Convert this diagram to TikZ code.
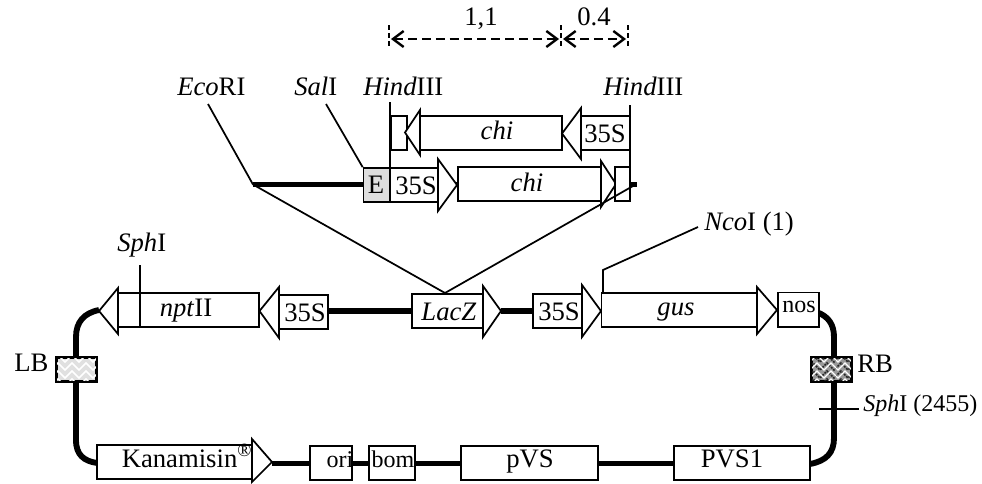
\documentclass[tikz,border=0pt]{standalone}
\usepackage{fontspec}
\setmainfont{Liberation Serif}
\usetikzlibrary{arrows.meta}
\tikzset{
  thin line/.style={draw=black,line width=1.3pt},
  boxshape/.style={draw=black,fill=white,line width=1.3pt,inner sep=0pt,rectangle},
  lab/.style={inner sep=0pt,anchor=base,font=\fontsize{20}{20}\selectfont},
  smalllab/.style={inner sep=0pt,anchor=base,font=\fontsize{18}{18}\selectfont},
  backbone/.style={draw=black,line width=4.4pt},
  dim/.style={draw=black,line width=1.8pt,dash pattern=on 6.7pt off 3.7pt},
  tick/.style={draw=black,line width=1pt,dash pattern=on 4pt off 2pt},
  arrowtri/.style={draw=black,fill=white,line width=1.3pt,line join=miter},
}
% name x1 y1 x2 y2 extra
\newcommand\bx[6][]{\node[boxshape,#1,minimum width={(#4-#2)*0.75pt},minimum height={(#5-#3)*0.75pt}] (#6) at ({(#2+#4)/2},{(#3+#5)/2}) {};}
% name basex ytop ybot tipx ymid
\newcommand\tri[6]{\draw[arrowtri] (#2,#3) -- (#2,#4) -- (#5,#6) -- cycle; \coordinate (#1) at (#5,#6);}
\newcommand\zig[2]{%
  \foreach \yy in {-12,-4,4,12,20,28}{%
    \draw[#2] (-10+#1,358+\yy)
      \foreach \k in {0,1,2,3,4,5,6}{ -- ++(7,-7) -- ++(7,7)};
  }}
\begin{document}
\begin{tikzpicture}[x=0.75pt,y=-0.75pt]
\useasboundingbox (0,0) rectangle (982,483);
% named free ends
\coordinate (ecoT) at (208,104);
\coordinate (salT) at (326,104);
\coordinate (h1T) at (390,102);
\coordinate (h2T) at (630,105);
\coordinate (h1B) at (390,168);
\coordinate (h2B) at (630,202);
\coordinate (topL) at (253,184.5);
\coordinate (topR) at (637,184.5);
\coordinate (insR) at (633,186);
\coordinate (sphT) at (140,265);
\coordinate (sphB) at (140,327);
\coordinate (ncoK) at (603,270);
\coordinate (ncoE) at (698,227);
\coordinate (ncoB) at (603,293);
\coordinate (sph2L) at (819,409);
\coordinate (sph2R) at (859,409);
% backbone
\draw[backbone] (topL) -- (topR);
\draw[backbone] (99,310) .. controls (84,313) and (76,322) .. (76,337) -- (76,440) .. controls (76,455) and (84,461) .. (97,463);
\draw[backbone] (819,313) .. controls (828,317) and (834,324) .. (834,337) -- (834,438) .. controls (834,453) and (826,461) .. (810,464);
\draw[backbone] (328,311) -- (412,311);
\draw[backbone] (501,311) -- (534,311);
\draw[backbone] (272,463.5) -- (310,463.5);
\draw[backbone] (352,463.5) -- (369,463.5);
\draw[backbone] (415,463.5) -- (461,463.5);
\draw[backbone] (598,463.5) -- (674,463.5);
% insert, upper strand
\bx{391}{116}{407}{150}{ttail}
\tri{ttailtri}{420}{110}{155}{405}{132.5}
\bx{420}{116}{562}{150}{tchi}
\tri{tchitri}{581}{108}{159}{562}{133.5}
\bx{581}{116}{630}{150}{tp}
% insert, lower strand
\bx[fill=black!13]{363.5}{168}{390}{202}{ebox}
\bx{390}{168}{438}{202}{lp}
\tri{lptri}{438}{159}{211}{457}{185}
\bx{458}{167}{601}{201}{lchi}
\tri{lchitri}{601}{161}{207}{616}{184}
\bx{615}{167}{630}{201}{ltail}
% site lines
\draw[thin line] (ecoT) -- (topL);
\draw[thin line] (salT) -- (ebox.north west);
\draw[thin line] (h1T) -- (h1B);
\draw[thin line] (h2T) -- (h2B);
% main row
\tri{npttri}{118}{288}{334}{99}{311}
\bx{118}{293}{259}{327}{npt}
\tri{sltri}{279}{287}{338}{259.5}{311}
\bx{279}{295}{328}{329}{sl}
\bx{412}{294}{483}{328}{lacz}
\tri{lacztri}{483}{286}{337}{501}{311}
\bx{533}{294}{582}{328}{sm}
\tri{smtri}{582}{285}{337}{601}{311}
\bx{601.5}{293}{757}{327}{gus}
\tri{gustri}{757}{287}{334}{777}{310}
\bx{778}{292.5}{819}{327}{nos}
% bottom row
\bx{97}{445}{252}{479}{kan}
\tri{kantri}{252}{439}{482}{272}{462}
\bx{310}{446}{352}{480}{ori}
\bx{369}{446}{415}{480}{bom}
\bx{461}{446}{598}{480}{pvs}
\bx{674}{446}{810}{480}{pvsone}
% border boxes
\bx[fill=black!12]{57}{358}{96}{381}{lb}
\begin{scope}
\clip (57,358) rectangle (96,381);
\zig{47}{white,line width=1.3pt}
\end{scope}
\draw[line width=1.3pt] (lb.north west) rectangle (lb.south east);
\bx[fill=black!40]{812}{358}{851}{381}{rb}
\begin{scope}
\clip (812,358) rectangle (851,381);
\zig{802}{black!85,line width=1.2pt,dash pattern=on 1.5pt off .8pt}
\zig{806}{white,line width=1pt}
\end{scope}
\draw[line width=1.3pt] (rb.north west) rectangle (rb.south east);
% thin connectors
\draw[thin line] (topL) -- (445,293) coordinate (insA) -- (insR);
\draw[thin line] (sphT) -- (sphB);
\draw[thin line] (ncoB) -- (ncoK) -- (ncoE);
\draw[thin line] (sph2L) -- (sph2R);
% dimensions
\coordinate (da) at (389,25); \coordinate (db) at (561,25); \coordinate (dc) at (628,25);
\coordinate (dae) at (389,47); \coordinate (dbe) at (561,47); \coordinate (dce) at (628,47);
\draw[tick] (da) -- (dae);
\draw[tick] (db) -- (dbe);
\draw[tick] (dc) -- (dce);
\draw[dim,{Straight Barb[length=8pt,width=12pt]}-{Straight Barb[length=8pt,width=12pt]}] (391,39) -- (559,39);
\draw[dim,{Straight Barb[length=8pt,width=12pt]}-{Straight Barb[length=8pt,width=12pt]}] (563,39) -- (626,39);
% labels
\node[lab] (t11) at (481,25) {1,1};
\node[lab] (t04) at (594,25) {0.4};
\node[lab,anchor=base west] (teco) at (177,95) {\textit{Eco}RI};
\node[lab,anchor=base west] (tsal) at (294,95) {\textit{Sal}I};
\node[lab,anchor=base west] (th1) at (363,95) {\textit{Hind}III};
\node[lab,anchor=base west] (th2) at (603,95) {\textit{Hind}III};
\node[lab] (xchi1) at (497,139) {\textit{chi}};
\node[lab] (x35a) at (605,142) {35S};
\node[lab] (xe) at (376,193) {E};
\node[lab] (x35b) at (416,194) {35S};
\node[lab] (xchi2) at (527,191) {\textit{chi}};
\node[lab,anchor=base west] (tsph) at (117,251) {\textit{Sph}I};
\node[lab,anchor=base west] (tnco) at (704,230) {\textit{Nco}I (1)};
\node[lab] (xnpt) at (186,316) {\textit{npt}II};
\node[lab] (x35c) at (305,321) {35S};
\node[lab] (xlac) at (449,320) {\textit{LacZ}};
\node[lab] (x35d) at (559,320) {35S};
\node[lab] (xgus) at (676,315) {\textit{gus}};
\node[smalllab] (xnos) at (799,312) {nos};
\node[lab,anchor=base west] (tlb) at (14,371) {LB};
\node[lab,anchor=base west] (trb) at (857,372) {RB};
\node[smalllab,anchor=base west] (tsph2) at (863,411) {\textit{Sph}I (2455)};
\node[lab] (xkan) at (187,467) {Kanamisin\textsuperscript{®}};
\node[smalllab] (xori) at (340,467) {ori};
\node[smalllab] (xbom) at (393,467) {bom};
\node[lab] (xpvs) at (530,467) {pVS};
\node[lab] (xpvsone) at (732,467) {PVS1};
\end{tikzpicture}
\end{document}
